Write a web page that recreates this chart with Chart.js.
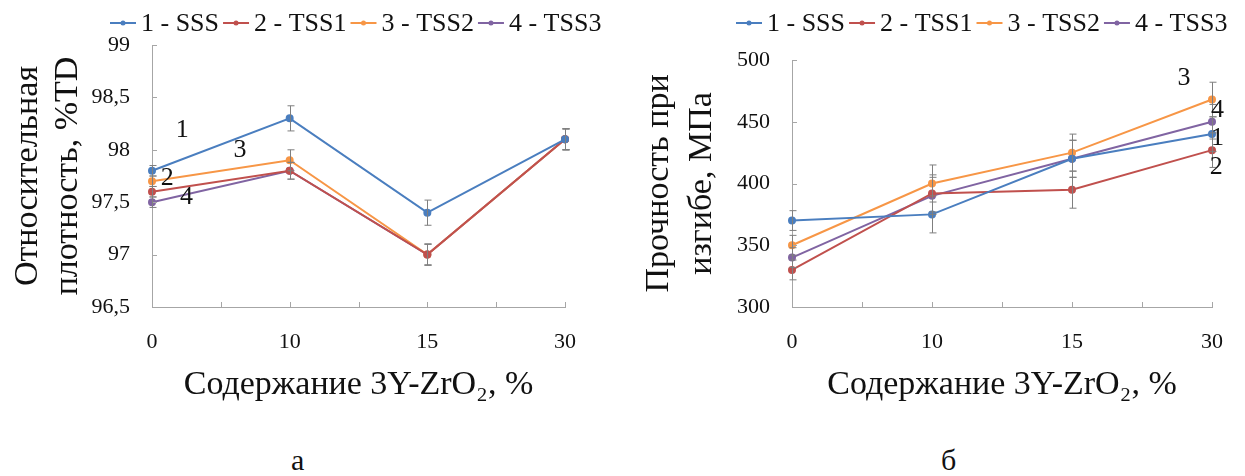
<!DOCTYPE html>
<html>
<head>
<meta charset="utf-8">
<script src="https://cdn.jsdelivr.net/npm/chart.js@4.4.0/dist/chart.umd.min.js"></script>
<style>
    body { margin: 0; background: #fff; width: 1245px; height: 476px; position: relative; overflow: hidden; font-family: "Liberation Serif", serif; }
    .box { position: absolute; top: 0; height: 420px; }
    #boxLeft { left: 0; width: 622px; }
    #boxRight { left: 622px; width: 623px; }
    .cap { position: absolute; top: 440px; font-size: 30px; color: #111; line-height: 40px; }
</style>
</head>
<body>
<div class="box" id="boxLeft"><canvas id="densityChart"></canvas></div>
<div class="box" id="boxRight"><canvas id="strengthChart"></canvas></div>
<div class="cap" style="left:291px">а</div>
<div class="cap" style="left:941px">б</div>
<script>
// Содержание 3Y-ZrO2, %
const zrContent = ['0', '10', '15', '30'];
const seriesNames = ['1 - SSS', '2 - TSS1', '3 - TSS2', '4 - TSS3'];
const seriesColors = ['#4a7ebf', '#c0504d', '#f79646', '#8064a2'];

// а: относительная плотность, %TD
const densitySSS = [97.8, 98.3, 97.4, 98.1];
const densityTSS1 = [97.6, 97.8, 97.0, 98.1];
const densityTSS2 = [97.7, 97.9, 97.0, 98.1];
const densityTSS3 = [97.5, 97.8, 97.0, 98.1];
const densityErrSSS = [0.05, 0.12, 0.12, 0.1];
const densityErrTSS1 = [0.05, 0.08, 0.1, 0.1];
const densityErrTSS2 = [0.05, 0.1, 0.1, 0.1];
const densityErrTSS3 = [0.05, 0.08, 0.1, 0.1];
const densityTicks = [96.5, 97, 97.5, 98, 98.5, 99];
// номера кривых: [текст, индекс по x, значение]
const densityMarks = [['1', 0.22, 98.19], ['3', 0.64, 98.0], ['2', 0.11, 97.73], ['4', 0.25, 97.55]];

// б: прочность при изгибе, МПа
const strengthSSS = [370, 375, 420, 440];
const strengthTSS1 = [330, 392, 395, 427];
const strengthTSS2 = [350, 400, 425, 468];
const strengthTSS3 = [340, 390, 420, 450];
const strengthErrSSS = [8, 15, 15, 14];
const strengthErrTSS1 = [8, 15, 15, 14];
const strengthErrTSS2 = [8, 15, 15, 14];
const strengthErrTSS3 = [8, 15, 15, 14];
const strengthTicks = [300, 350, 400, 450, 500];
const strengthMarks = [['3', 2.8, 485], ['4', 3.04, 459], ['1', 3.04, 437], ['2', 3.03, 413]];

const axisColor = '#a6a6a6';
const textColor = '#111';
const serif = '"Liberation Serif", "Times New Roman", serif';

// метки делений внутрь, планки погрешностей и номера кривых
const extras = {
    id: 'extras',
    afterDatasetsDraw(chart, args, opts) {
        const { ctx, chartArea: area, scales: { x, y } } = chart;
        ctx.save();
        ctx.strokeStyle = axisColor;
        ctx.lineWidth = 1;
        ctx.beginPath();
        for (let i = 0; i <= (zrContent.length - 1) * 2; i++) {
            const px = Math.round(x.getPixelForValue(i / 2)) + 0.5;
            ctx.moveTo(px, area.bottom);
            ctx.lineTo(px, area.bottom - 5);
        }
        opts.ticks.forEach(v => {
            const py = Math.round(y.getPixelForValue(v)) + 0.5;
            ctx.moveTo(area.left, py);
            ctx.lineTo(area.left + 5, py);
        });
        ctx.stroke();

        // планки погрешностей
        ctx.strokeStyle = '#7f7f7f';
        ctx.beginPath();
        chart.data.datasets.forEach((ds, k) => {
            const err = opts.errors[k];
            ds.data.forEach((v, i) => {
                const px = Math.round(x.getPixelForValue(i)) + 0.5;
                const top = y.getPixelForValue(v + err[i]);
                const bot = y.getPixelForValue(v - err[i]);
                ctx.moveTo(px, top); ctx.lineTo(px, bot);
                ctx.moveTo(px - 3, top); ctx.lineTo(px + 4, top);
                ctx.moveTo(px - 3, bot); ctx.lineTo(px + 4, bot);
            });
        });
        ctx.stroke();

        ctx.fillStyle = textColor;
        ctx.font = '26px ' + serif;
        ctx.textAlign = 'center';
        ctx.textBaseline = 'middle';
        opts.marks.forEach(m => {
            ctx.fillText(m[0], x.getPixelForValue(m[1]), y.getPixelForValue(m[2]));
        });
        ctx.restore();
    },
    afterDraw(chart, args, opts) {
        // легенда в одну строку над графиком
        const ctx = chart.ctx;
        const lg = opts.legend;
        ctx.save();
        ctx.font = lg.size + 'px ' + serif;
        ctx.textBaseline = 'middle';
        let lx = lg.x;
        chart.data.datasets.forEach(ds => {
            ctx.strokeStyle = ds.borderColor;
            ctx.lineWidth = 2;
            ctx.beginPath();
            ctx.moveTo(lx, lg.y);
            ctx.lineTo(lx + 26, lg.y);
            ctx.stroke();
            ctx.fillStyle = ds.borderColor;
            ctx.beginPath();
            ctx.arc(lx + 13, lg.y, 2.5, 0, Math.PI * 2);
            ctx.fill();
            lx += 31;
            ctx.fillStyle = textColor;
            ctx.fillText(ds.label, lx, lg.y + 1);
            lx += ctx.measureText(ds.label).width + 4;
        });
        ctx.restore();
    }
};

function makeDatasets(values) {
    return values.map((vals, i) => ({
        label: seriesNames[i],
        data: vals,
        borderColor: seriesColors[i],
        backgroundColor: seriesColors[i],
        borderWidth: 2,
        pointRadius: 3,
        pointHoverRadius: 3,
        tension: 0
    }));
}

function createChart(canvasId, cfg) {
    new Chart(document.getElementById(canvasId), {
        type: 'line',
        data: { labels: zrContent, datasets: makeDatasets(cfg.values) },
        options: {
            responsive: true,
            maintainAspectRatio: false,
            animation: false,
            layout: { padding: cfg.padding },
            scales: {
                x: {
                    offset: false,
                    grid: { display: false, drawTicks: false },
                    border: { color: axisColor },
                    ticks: { color: textColor, font: { family: serif, size: 22 }, padding: 22, maxRotation: 0 },
                    title: {
                        display: true,
                        text: 'Содержание 3Y-ZrO₂, %',
                        color: textColor,
                        font: { family: serif, size: 34 },
                        padding: { top: 0, bottom: 15 }
                    },
                    afterFit: scale => { scale.height = 113; }
                },
                y: {
                    min: cfg.ticks[0],
                    max: cfg.ticks[cfg.ticks.length - 1],
                    afterBuildTicks: scale => { scale.ticks = cfg.ticks.map(v => ({ value: v })); },
                    grid: { display: false, drawTicks: false },
                    border: { color: axisColor },
                    ticks: {
                        color: textColor,
                        font: { family: serif, size: 22 },
                        padding: 22,
                        callback: v => String(v).replace('.', ',')
                    },
                    title: {
                        display: true,
                        text: cfg.yTitle,
                        color: textColor,
                        font: { family: serif, size: 34, lineHeight: cfg.titleLine },
                        padding: { top: cfg.titlePad, bottom: 0 }
                    },
                    afterFit: scale => { scale.width = cfg.yWidth; }
                }
            },
            plugins: {
                legend: { display: false },
                tooltip: { enabled: false },
                extras: { ticks: cfg.ticks, errors: cfg.errors, marks: cfg.marks, legend: cfg.legend }
            }
        },
        plugins: [extras]
    });
}

createChart('densityChart', {
    values: [densitySSS, densityTSS1, densityTSS2, densityTSS3],
    errors: [densityErrSSS, densityErrTSS1, densityErrTSS2, densityErrTSS3],
    ticks: densityTicks,
    marks: densityMarks,
    yTitle: ['Относительная', 'плотность, %TD'],
    titleLine: 1.18,
    titlePad: 8,
    yWidth: 152,
    padding: { top: 45, right: 57, bottom: 0, left: 0 },
    legend: { x: 110, y: 23, size: 26 }
});

createChart('strengthChart', {
    values: [strengthSSS, strengthTSS1, strengthTSS2, strengthTSS3],
    errors: [strengthErrSSS, strengthErrTSS1, strengthErrTSS2, strengthErrTSS3],
    ticks: strengthTicks,
    marks: strengthMarks,
    yTitle: ['Прочность при', 'изгибе, МПа'],
    titleLine: 1.26,
    titlePad: 16,
    yWidth: 170,
    padding: { top: 60, right: 30, bottom: 0, left: 0 },
    legend: { x: 114, y: 23, size: 26 }
});
</script>
</body>
</html>
